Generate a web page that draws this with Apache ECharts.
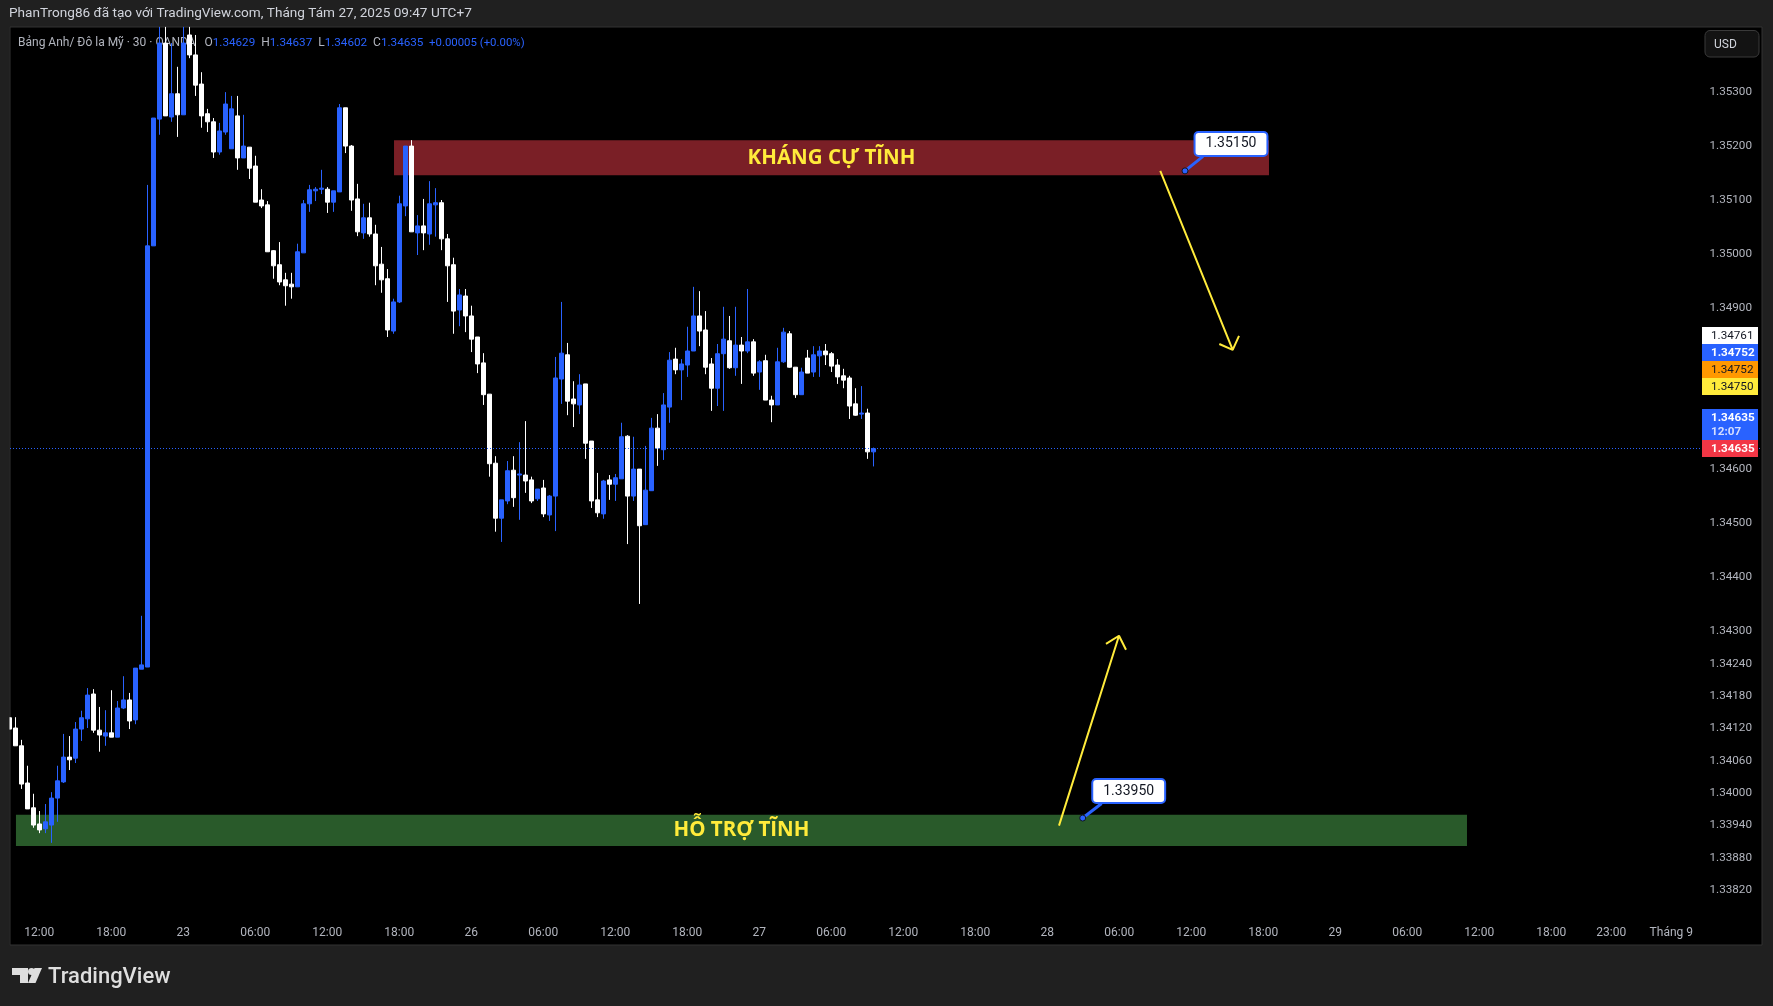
<!DOCTYPE html>
<html>
  <head>
    <meta charset="utf-8" />
    <title>Bảng Anh/ Đô la Mỹ</title>
    <script src="https://cdn.jsdelivr.net/npm/echarts@6/dist/echarts.min.js"></script>
    <style>
      html, body { margin: 0; padding: 0; background: #202020; }
      #chart { width: 1773px; height: 1006px; }
    </style>
  </head>
  <body>
    <div id="chart"></div>
    <script type="text/javascript">
      // 30 minute candles, the first one sits at slot -1 and is cut by the pane edge
      var firstSlot = -1;
      var opens = [
        1.34136,1.34117,1.34084,1.34015,1.33969,1.33939,1.33930,1.33937,1.33987,1.34017,
        1.34063,1.34061,1.34115,1.34134,1.34180,1.34113,1.34102,1.34108,1.34100,1.34154,
        1.34169,1.34132,1.34226,1.34230,1.35011,1.35246,1.35387,1.35250,1.35293,1.35254,
        1.35402,1.35365,1.35311,1.35256,1.35241,1.35185,1.35222,1.35191,1.35252,1.35174,
        1.35194,1.35159,1.35096,1.35087,1.35002,1.34976,1.34948,1.34940,1.34935,1.34998,
        1.35089,1.35113,1.35116,1.35116,1.35092,1.35111,1.35267,1.35196,1.35098,1.35035,
        1.35063,1.35033,1.34977,1.34950,1.34853,1.34907,1.35085,1.35196,1.35035,1.35048,
        1.35033,1.35087,1.35091,1.35024,1.34976,1.34892,1.34918,1.34881,1.34842,1.34794,
        1.34736,1.34608,1.34506,1.34538,1.34595,1.34586,1.34586,1.34577,1.34542,1.34562,
        1.34512,1.34547,1.34764,1.34809,1.34727,1.34716,1.34755,1.34649,1.34540,1.34514,
        1.34577,1.34569,1.34579,1.34658,1.34547,1.34597,1.34494,1.34557,1.34673,1.34633,
        1.34712,1.34801,1.34781,1.34790,1.34816,1.34881,1.34855,1.34792,1.34747,1.34811,
        1.34835,1.34785,1.34827,1.34816,1.34833,1.34777,1.34798,1.34725,1.34716,1.34796,
        1.34848,1.34786,1.34735,1.34803,1.34777,1.34807,1.34816,1.34811,1.34790,1.34770,
        1.34766,1.34718,1.34699,1.34701,1.34629
      ];
      var closes = [
        1.34115,1.34084,1.34013,1.33967,1.33937,1.33928,1.33943,1.33987,1.34019,1.34063,
        1.34058,1.34115,1.34136,1.34178,1.34113,1.34104,1.34108,1.34100,1.34154,1.34169,
        1.34130,1.34228,1.34234,1.35011,1.35248,1.35387,1.35252,1.35293,1.35254,1.35387,
        1.35365,1.35309,1.35252,1.35241,1.35185,1.35224,1.35274,1.35265,1.35174,1.35196,
        1.35155,1.35092,1.35085,1.35000,1.34974,1.34944,1.34937,1.34935,1.35000,1.35089,
        1.35115,1.35116,1.35118,1.35092,1.35113,1.35267,1.35196,1.35096,1.35037,1.35063,
        1.35033,1.34974,1.34948,1.34855,1.34907,1.35089,1.35196,1.35037,1.35048,1.35035,
        1.35089,1.35091,1.35024,1.34974,1.34890,1.34920,1.34881,1.34838,1.34792,1.34735,
        1.34607,1.34506,1.34540,1.34594,1.34544,1.34588,1.34575,1.34538,1.34560,1.34514,
        1.34547,1.34766,1.34812,1.34723,1.34718,1.34753,1.34645,1.34538,1.34516,1.34575,
        1.34569,1.34581,1.34657,1.34547,1.34597,1.34492,1.34558,1.34673,1.34636,1.34716,
        1.34799,1.34781,1.34792,1.34816,1.34881,1.34853,1.34786,1.34747,1.34811,1.34838,
        1.34785,1.34827,1.34816,1.34833,1.34775,1.34796,1.34725,1.34716,1.34796,1.34851,
        1.34786,1.34735,1.34777,1.34775,1.34809,1.34816,1.34809,1.34788,1.34768,1.34762,
        1.34714,1.34697,1.34701,1.34629,1.34635
      ];
      var lows = [
        1.34115,1.34084,1.34004,1.33967,1.33932,1.33922,1.33922,1.33904,1.33943,1.34015,
        1.34039,1.34052,1.34093,1.34117,1.34108,1.34073,1.34084,1.34100,1.34100,1.34152,
        1.34115,1.34124,1.34226,1.34230,1.35011,1.35217,1.35252,1.35241,1.35213,1.35254,
        1.35359,1.35289,1.35230,1.35222,1.35174,1.35180,1.35217,1.35191,1.35152,1.35174,
        1.35135,1.35092,1.35081,1.35000,1.34950,1.34938,1.34900,1.34913,1.34935,1.34998,
        1.35074,1.35094,1.35107,1.35072,1.35074,1.35111,1.35183,1.35076,1.35029,1.35024,
        1.35028,1.34938,1.34924,1.34842,1.34848,1.34905,1.35066,1.35037,1.34994,1.35003,
        1.35013,1.35028,1.35003,1.34907,1.34848,1.34862,1.34851,1.34814,1.34775,1.34716,
        1.34583,1.34481,1.34462,1.34532,1.34527,1.34503,1.34553,1.34534,1.34538,1.34508,
        1.34501,1.34482,1.34718,1.34697,1.34675,1.34699,1.34616,1.34525,1.34508,1.34505,
        1.34540,1.34538,1.34579,1.34458,1.34538,1.34347,1.34494,1.34557,1.34603,1.34614,
        1.34683,1.34773,1.34725,1.34768,1.34816,1.34825,1.34773,1.34705,1.34714,1.34705,
        1.34783,1.34770,1.34755,1.34812,1.34770,1.34744,1.34725,1.34684,1.34716,1.34794,
        1.34785,1.34729,1.34735,1.34775,1.34768,1.34768,1.34790,1.34777,1.34755,1.34747,
        1.34690,1.34696,1.34690,1.34616,1.34602
      ];
      var highs = [
        1.34136,1.34137,1.34095,1.34047,1.33995,1.33963,1.33976,1.33998,1.34047,1.34106,
        1.34102,1.34128,1.34149,1.34191,1.34189,1.34156,1.34150,1.34187,1.34167,1.34213,
        1.34182,1.34228,1.34325,1.35124,1.35248,1.35417,1.35417,1.35387,1.35343,1.35417,
        1.35417,1.35402,1.35333,1.35265,1.35248,1.35239,1.35296,1.35289,1.35289,1.35254,
        1.35194,1.35178,1.35116,1.35094,1.35003,1.35018,1.34961,1.34961,1.35015,1.35096,
        1.35124,1.35120,1.35152,1.35120,1.35113,1.35274,1.35267,1.35198,1.35126,1.35089,
        1.35091,1.35050,1.35009,1.34968,1.34913,1.35104,1.35196,1.35207,1.35068,1.35098,
        1.35131,1.35118,1.35096,1.35033,1.34989,1.34931,1.34931,1.34900,1.34842,1.34812,
        1.34736,1.34621,1.34540,1.34612,1.34621,1.34647,1.34686,1.34583,1.34560,1.34577,
        1.34549,1.34805,1.34907,1.34831,1.34760,1.34773,1.34755,1.34649,1.34590,1.34577,
        1.34586,1.34588,1.34683,1.34660,1.34657,1.34597,1.34640,1.34692,1.34699,1.34738,
        1.34814,1.34822,1.34801,1.34861,1.34935,1.34927,1.34890,1.34803,1.34829,1.34898,
        1.34881,1.34898,1.34842,1.34931,1.34838,1.34799,1.34809,1.34733,1.34822,1.34859,
        1.34853,1.34786,1.34785,1.34818,1.34825,1.34825,1.34829,1.34814,1.34801,1.34783,
        1.34770,1.34747,1.34751,1.34709,1.34637
      ];

      var priceTicks = [1.353,1.352,1.351,1.35,1.349,1.346,1.345,1.344,1.343,1.3424,1.3418,1.3412,1.3406,1.34,1.3394,1.3388,1.3382];
      var timeTickSlots = [4,16,28,40,52,64,76,88,100,112,124,136,148,160,172,184,196,208,220,232,244,256,266,276];
      var timeTickLabels = ["12:00","18:00","23","06:00","12:00","18:00","26","06:00","12:00","18:00","27","06:00","12:00","18:00","28","06:00","12:00","18:00","29","06:00","12:00","18:00","23:00","Tháng 9"];

      // drawn zones: [left slot, top price, right slot, bottom price]
      var resistanceZone = [63.12, 1.35207, 208.95, 1.35142];
      var supportZone = [0.11, 1.33956, 241.95, 1.33898];

      // hand drawn arrows, line goes to the tip and then out to each arm
      var arrowDownSlots = [190.83, 202.9, 200.67, 202.9, 203.95];
      var arrowDownPrices = [1.3515, 1.34818, 1.34829, 1.34818, 1.34844];
      var arrowUpSlots = [173.95, 183.95, 181.78, 183.95, 185.12];
      var arrowUpPrices = [1.33936, 1.34288, 1.34273, 1.34288, 1.34262];

      // price notes: anchor point and where the tail meets the box
      var noteSlots = [194.95, 177.9];
      var notePrices = [1.3515, 1.3395];
      var noteTailSlots = [197.95, 181.05];
      var noteTailPrices = [1.35177, 1.33977];

      var lastPrice = 1.34635;
      var tagTexts = ["1.34761", "1.34752", "1.34752", "1.34750", "1.34635", "1.34635"];
      var tagTops = [327, 344, 361, 378, 409, 440];
      var tagBottoms = [344, 361, 378, 395, 440, 457];
      var tagFills = ["#ffffff", "#2962ff", "#ff9800", "#ffeb3b", "#2962ff", "#f23645"];
      var tagInks = ["#131722", "#ffffff", "#131722", "#131722", "#ffffff", "#ffffff"];

      var font = "Roboto";
      var candles = [];
      for (var i = 0; i < opens.length; i++) {
        candles.push([firstSlot + i, opens[i], closes[i], lows[i], highs[i]]);
      }

      function pairs(xs, ys) {
        return xs.map(function (x, n) { return [x, ys[n]]; });
      }

      var tailData = noteSlots.map(function (s, n) {
        return [[s, notePrices[n]], [noteTailSlots[n], noteTailPrices[n]]];
      });

      // side tags on the price scale plus the page furniture
      var graphics = [
        { type: "rect", z: 30, shape: { x: 0, y: 27, width: 9.5, height: 918 }, style: { fill: "#202020" } },
        { type: "text", left: 9, top: 7, style: { text: "PhanTrong86 đã tạo với TradingView.com, Tháng Tám 27, 2025 09:47 UTC+7", fill: "#d1d4dc", font: "13.6px " + font } },
        { type: "rect", shape: { x: 1705, y: 30.5, width: 54, height: 26.5, r: 5 }, style: { fill: "#131313", stroke: "#3a3a3a", lineWidth: 1 } },
        { type: "text", left: 1714, top: 39, style: { text: "USD", fill: "#d1d4dc", font: "12px " + font } },
        { type: "polygon", shape: { points: [[12,968],[28,968],[28,983],[20,983],[20,975],[12,975]] }, style: { fill: "#dedede" } },
        { type: "circle", shape: { cx: 31.5, cy: 971.5, r: 3.5 }, style: { fill: "#dedede" } },
        { type: "polygon", shape: { points: [[34.5,968],[42,968],[35.5,983],[28,983]] }, style: { fill: "#dedede" } },
        { type: "text", left: 48, top: 966, style: { text: "TradingView", fill: "#dedede", font: "500 22px " + font } }
      ];
      tagTexts.forEach(function (t, n) {
        graphics.push({ type: "rect", z: 20, shape: { x: 1702, y: tagTops[n], width: 56, height: tagBottoms[n] - tagTops[n] }, style: { fill: tagFills[n] } });
        graphics.push({ type: "text", z: 21, left: 1711, top: tagTops[n] + 3, style: { text: t, fill: tagInks[n], font: (n === 1 || n === 4 || n === 5 ? "bold " : "") + "11.7px " + font } });
      });
      graphics.push({ type: "text", z: 21, left: 1711, top: 426, style: { text: "12:07", fill: "#d4deff", font: "bold 11.7px " + font } });

      var myChart = echarts.init(document.getElementById("chart"));
      var option = {
        animation: false,
        backgroundColor: "#202020",
        textStyle: { fontFamily: font },
        title: {
          z: 0,
          left: 18,
          top: 37,
          padding: 0,
          text: "{g|Bảng Anh/ Đô la Mỹ · 30 · OANDA   O}{b|1.34629}{g|  H}{b|1.34637}{g|  L}{b|1.34602}{g|  C}{b|1.34635}{c|  +0.00005 (+0.00%)}",
          textStyle: {
            fontWeight: "normal",
            fontSize: 12,
            rich: {
              g: { color: "#b2b5be", fontSize: 12, fontFamily: font },
              b: { color: "#2962ff", fontSize: 11.7, fontFamily: font },
              c: { color: "#2962ff", fontSize: 11.4, fontFamily: font }
            }
          }
        },
        grid: {
          z: -1,
          show: true,
          left: 10,
          right: 11,
          top: 27,
          bottom: 61,
          backgroundColor: "#000000",
          borderColor: "#333333",
          borderWidth: 1
        },
        xAxis: {
          type: "value",
          min: -0.883,
          max: 291.117,
          splitLine: { show: false },
          axisLine: { show: false },
          axisTick: { show: false },
          axisLabel: {
            inside: true,
            margin: 6,
            color: "#b2b5be",
            fontSize: 12,
            customValues: timeTickSlots,
            formatter: function (v) { return timeTickLabels[timeTickSlots.indexOf(v)]; }
          }
        },
        yAxis: {
          type: "value",
          position: "right",
          min: 1.337146,
          max: 1.354168,
          splitLine: { show: false },
          axisLine: { show: false },
          axisTick: { show: false },
          axisLabel: {
            inside: true,
            margin: 10,
            verticalAlign: "top",
            lineHeight: 4,
            color: "#b2b5be",
            fontSize: 11.7,
            customValues: priceTicks,
            formatter: function (v) { return v.toFixed(5); }
          }
        },
        graphic: graphics,
        series: [
          {
            name: "zones",
            type: "line",
            z: 1,
            data: [],
            markArea: {
              silent: true,
              data: [
                [
                  {
                    name: "KHÁNG CỰ TĨNH",
                    coord: [resistanceZone[0], resistanceZone[1]],
                    itemStyle: { color: "#7a1f26" }
                  },
                  { coord: [resistanceZone[2], resistanceZone[3]] }
                ],
                [
                  {
                    name: "HỖ TRỢ TĨNH",
                    coord: [supportZone[0], supportZone[1]],
                    itemStyle: { color: "#295a2a" }
                  },
                  { coord: [supportZone[2], supportZone[3]] }
                ]
              ],
              label: {
                show: true,
                position: "inside",
                color: "#ffeb3b",
                fontWeight: "bold",
                fontSize: 20.5,
                fontFamily: "Open Sans"
              }
            }
          },
          {
            name: "GBPUSD",
            type: "candlestick",
            z: 3,
            clip: true,
            barWidth: 4,
            encode: { x: 0, y: [1, 2, 3, 4] },
            data: candles,
            itemStyle: {
              color: "#2962ff",
              color0: "#ffffff",
              borderColor: "#2962ff",
              borderColor0: "#ffffff",
              borderWidth: 1
            },
            markLine: {
              silent: true,
              symbol: "none",
              precision: 5,
              label: { show: false },
              lineStyle: { color: "#2962ff", type: [1, 2], width: 1 },
              data: [{ yAxis: lastPrice }]
            }
          },
          {
            name: "arrow down",
            type: "line",
            z: 4,
            symbol: "none",
            lineStyle: { color: "#ffeb3b", width: 2 },
            data: pairs(arrowDownSlots, arrowDownPrices)
          },
          {
            name: "arrow up",
            type: "line",
            z: 4,
            symbol: "none",
            lineStyle: { color: "#ffeb3b", width: 2 },
            data: pairs(arrowUpSlots, arrowUpPrices)
          },
          {
            name: "note tail 1",
            type: "line",
            z: 5,
            symbol: "none",
            lineStyle: { color: "#2962ff", width: 3 },
            data: tailData[0]
          },
          {
            name: "note tail 2",
            type: "line",
            z: 5,
            symbol: "none",
            lineStyle: { color: "#2962ff", width: 3 },
            data: tailData[1]
          },
          {
            name: "notes",
            type: "scatter",
            z: 6,
            symbol: "circle",
            symbolSize: 6,
            itemStyle: { color: "#2962ff", borderColor: "#131722", borderWidth: 1, opacity: 1 },
            data: pairs(noteSlots, notePrices),
            label: {
              show: true,
              position: "inside",
              offset: [46, -27],
              opacity: 1,
              formatter: function (p) { return p.value[1].toFixed(5); },
              color: "#131722",
              fontSize: 14,
              fontFamily: font,
              backgroundColor: "#ffffff",
              borderColor: "#2962ff",
              borderWidth: 2,
              borderRadius: 3,
              padding: [4, 10, 4, 10]
            }
          }
        ]
      };
      myChart.setOption(option);
    </script>
  </body>
</html>
